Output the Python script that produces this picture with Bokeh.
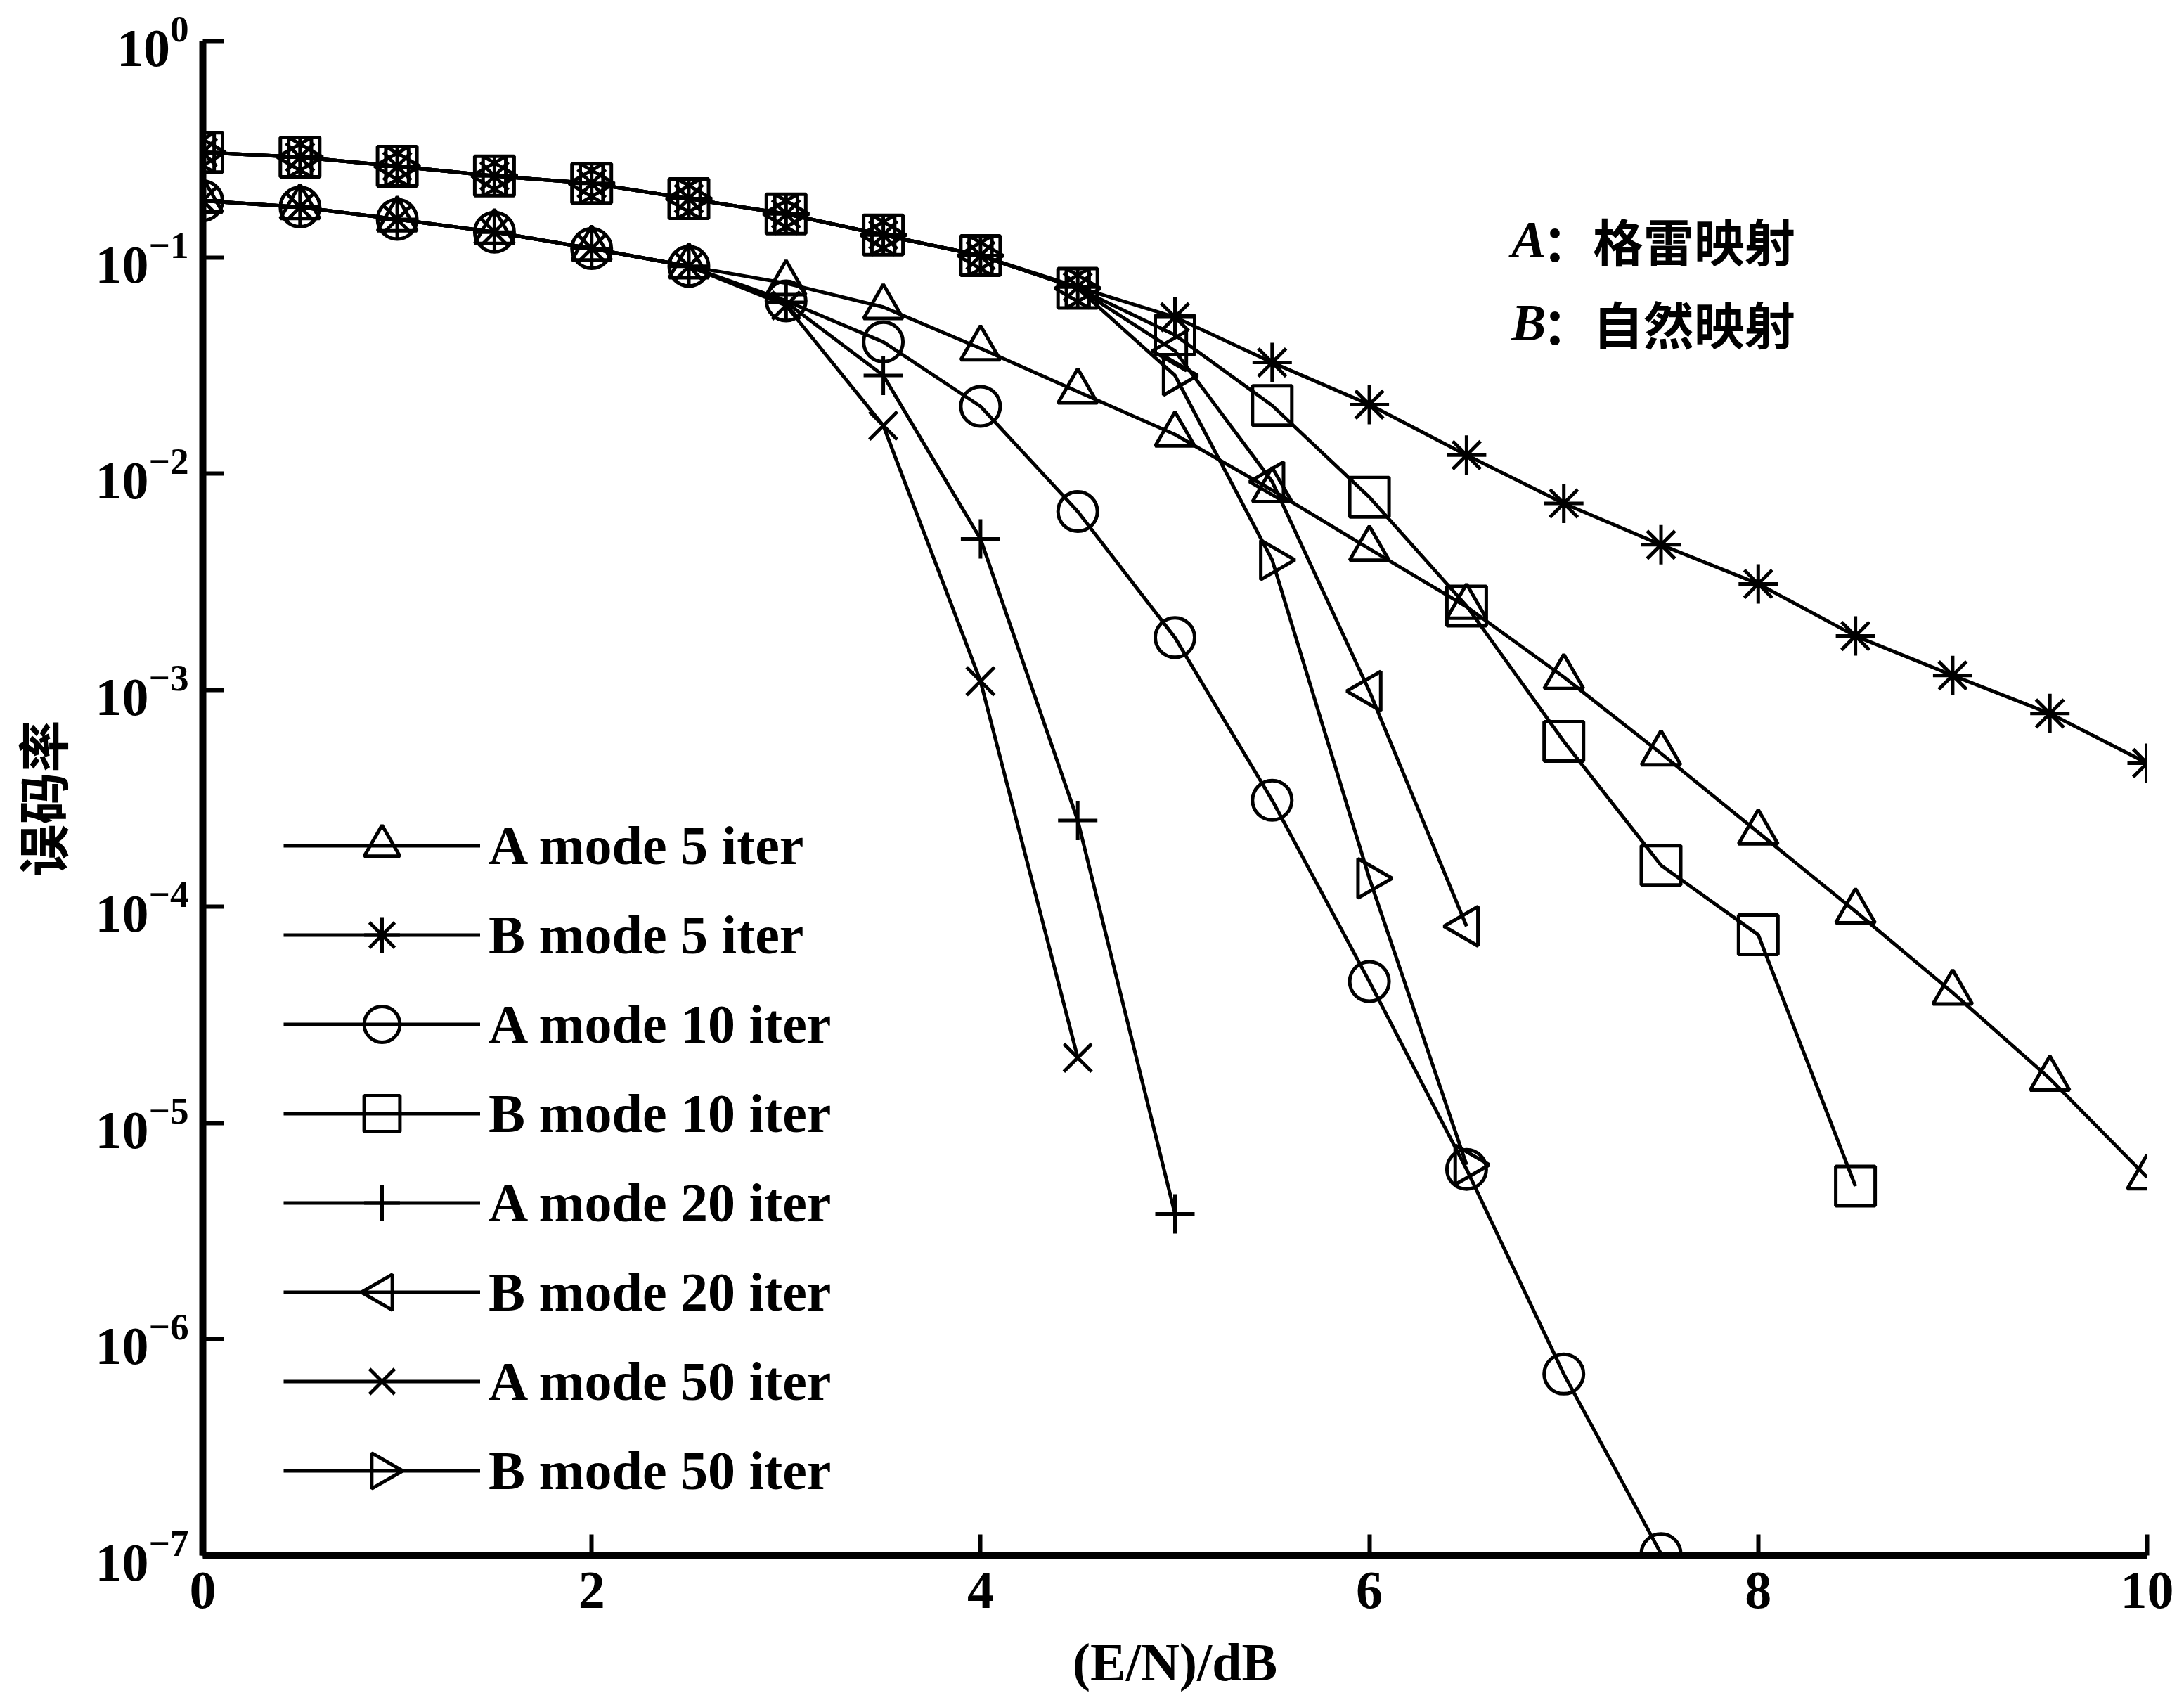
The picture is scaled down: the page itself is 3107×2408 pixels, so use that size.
from bokeh.plotting import figure
from bokeh.models import Range1d, FixedTicker, Legend, LegendItem, Label, LinearScale
from bokeh.embed import file_html
from bokeh.resources import INLINE

# ---------------- data ----------------
snr_full = [0, 0.5, 1, 1.5, 2, 2.5, 3, 3.5, 4, 4.5, 5, 5.5, 6, 6.5, 7, 7.5, 8, 8.5, 9, 9.5, 10]

ber_a5 = [0.183, 0.171, 0.150, 0.131, 0.110, 0.091, 0.076, 0.059, 0.038, 0.024, 0.0152,
          0.0084, 0.0045, 0.00243, 0.00115, 5.1e-4, 2.2e-4, 9.5e-5, 4.0e-5, 1.6e-5, 5.6e-6]
ber_b5 = [0.306, 0.291, 0.264, 0.238, 0.220, 0.187, 0.159, 0.127, 0.102, 0.073, 0.053,
          0.0327, 0.0209, 0.0122, 0.0073, 0.0047, 0.0031, 0.00178, 0.00117, 7.8e-4, 4.6e-4]

snr_a10 = [0, 0.5, 1, 1.5, 2, 2.5, 3, 3.5, 4, 4.5, 5, 5.5, 6, 6.5, 7, 7.5]
ber_a10 = [0.183, 0.171, 0.150, 0.131, 0.110, 0.091, 0.063, 0.0407, 0.0205, 0.0067, 0.00175,
           3.1e-4, 4.5e-5, 6.1e-6, 6.9e-7, 1.02e-7]

snr_b10 = [0, 0.5, 1, 1.5, 2, 2.5, 3, 3.5, 4, 4.5, 5, 5.5, 6, 6.5, 7, 7.5, 8, 8.5]
ber_b10 = [0.306, 0.291, 0.264, 0.238, 0.220, 0.187, 0.159, 0.127, 0.102, 0.072, 0.0438,
           0.0207, 0.0078, 0.00245, 5.8e-4, 1.55e-4, 7.4e-5, 5.1e-6]

snr_a20 = [0, 0.5, 1, 1.5, 2, 2.5, 3, 3.5, 4, 4.5, 5]
ber_a20 = [0.183, 0.171, 0.150, 0.131, 0.110, 0.091, 0.062, 0.0285, 0.0050, 2.5e-4, 3.8e-6]

snr_b20 = [0, 0.5, 1, 1.5, 2, 2.5, 3, 3.5, 4, 4.5, 5, 5.5, 6, 6.5]
ber_b20 = [0.306, 0.291, 0.264, 0.238, 0.220, 0.187, 0.159, 0.127, 0.102, 0.072, 0.037,
           0.0092, 9.9e-4, 8.1e-5]

snr_a50 = [0, 0.5, 1, 1.5, 2, 2.5, 3, 3.5, 4, 4.5]
ber_a50 = [0.183, 0.171, 0.150, 0.131, 0.110, 0.091, 0.060, 0.0167, 0.0011, 2.0e-5]

snr_b50 = [0, 0.5, 1, 1.5, 2, 2.5, 3, 3.5, 4, 4.5, 5, 5.5, 6, 6.5]
ber_b50 = [0.306, 0.291, 0.264, 0.238, 0.220, 0.187, 0.159, 0.127, 0.102, 0.072, 0.0285,
           0.0040, 1.35e-4, 6.4e-6]

series_labels = ["A mode 5 iter", "B mode 5 iter", "A mode 10 iter", "B mode 10 iter",
                 "A mode 20 iter", "B mode 20 iter", "A mode 50 iter", "B mode 50 iter"]

x_ticks = [0, 2, 4, 6, 8, 10]
y_ticks = [1e-7, 1e-6, 1e-5, 1e-4, 1e-3, 1e-2, 1e-1, 1]

ann_a = ("A", "：格雷映射")
ann_b = ("B", "：自然映射")
x_title = "(E/N)/dB"
y_title = "误码率"

# ---------------- figure ----------------
FRAME_W, FRAME_H = 2766, 2154
p = figure(frame_width=FRAME_W, frame_height=FRAME_H,
           x_range=Range1d(0, 10), y_range=Range1d(1e-7, 1),
           y_axis_type="log", output_backend="svg", toolbar_location=None,
           min_border_left=285, min_border_right=40, min_border_top=58,
           min_border_bottom=170)
p.outline_line_color = None
p.grid.visible = False
p.background_fill_color = "white"

# pixel-space ranges used only for the legend's rotated marker samples
p.extra_x_ranges = {"lpx": Range1d(0, FRAME_W)}
p.extra_y_ranges = {"lpy": Range1d(0, FRAME_H)}
p.extra_x_scales = {"lpx": LinearScale()}
p.extra_y_scales = {"lpy": LinearScale()}

SERIF = "Liberation Serif"

for ax in (p.xaxis[0], p.yaxis[0]):
    ax.axis_line_width = 10
    ax.axis_line_color = "black"
    ax.major_tick_line_width = 6
    ax.major_tick_line_color = "black"
    ax.major_tick_in = 30
    ax.major_tick_out = 0
    ax.minor_tick_line_color = None
    ax.major_label_text_font = SERIF
    ax.major_label_text_font_style = "bold"
    ax.major_label_text_font_size = "76px"
    ax.major_label_text_color = "black"

p.xaxis.ticker = FixedTicker(ticks=x_ticks)
p.yaxis.ticker = FixedTicker(ticks=y_ticks)
p.xaxis.major_label_standoff = 24
p.yaxis.major_label_standoff = 20

p.xaxis.axis_label = x_title
p.xaxis.axis_label_text_font = SERIF
p.xaxis.axis_label_text_font_style = "bold"
p.xaxis.axis_label_text_font_size = "76px"
p.xaxis.axis_label_text_color = "black"
p.xaxis.axis_label_standoff = 32

p.yaxis.axis_label = y_title
p.yaxis.axis_label_text_font = "Noto Sans CJK SC"
p.yaxis.axis_label_text_font_style = "bold"
p.yaxis.axis_label_text_font_size = "74px"
p.yaxis.axis_label_text_color = "black"
p.yaxis.axis_label_standoff = 22

# ---------------- series ----------------
LW = 5
MSIZE = 56
HALF_PI = 1.5707963
specs = [
    (snr_full, ber_a5, "triangle", 0.0),
    (snr_full, ber_b5, "asterisk", 0.0),
    (snr_a10, ber_a10, "circle", 0.0),
    (snr_b10, ber_b10, "square", 0.0),
    (snr_a20, ber_a20, "cross", 0.0),
    (snr_b20, ber_b20, "triangle", HALF_PI),
    (snr_a50, ber_a50, "x", 0.0),
    (snr_b50, ber_b50, "triangle", -HALF_PI),
]

# legend layout (screen px, relative to the frame's bottom-left corner)
LEG_X, LEG_Y = 115, 57
GLYPH_W, ROW_H = 280, 127
n_items = len(specs)

items = []
for i, ((xs, ys, marker, ang), lab) in enumerate(zip(specs, series_labels)):
    lr = p.line(xs, ys, line_color="black", line_width=LW)
    sr = p.scatter(xs, ys, marker=marker, size=MSIZE, angle=ang,
                   line_color="black", line_width=LW, fill_alpha=0)
    if ang == 0.0:
        items.append(LegendItem(label=lab, renderers=[lr, sr]))
    else:
        # Bokeh's legend ignores marker angle: draw the rotated sample ourselves
        items.append(LegendItem(label=lab, renderers=[lr]))
        cx = LEG_X + GLYPH_W / 2
        cy = LEG_Y + (n_items - 1 - i) * ROW_H + ROW_H / 2
        p.scatter([cx], [cy], marker=marker, angle=ang,
                  size=0.4 * min(GLYPH_W, ROW_H), line_color="black",
                  line_width=LW, fill_alpha=0,
                  x_range_name="lpx", y_range_name="lpy")

legend = Legend(items=items, location=(LEG_X, LEG_Y),
                glyph_width=GLYPH_W, glyph_height=ROW_H, label_height=ROW_H,
                spacing=0, label_standoff=12, padding=0, margin=0,
                border_line_color=None, background_fill_alpha=0,
                label_text_font=SERIF, label_text_font_style="bold",
                label_text_font_size="78px", label_text_color="black")
p.add_layout(legend)

# ---------------- annotations ----------------
for (head, tail), yv in ((ann_a, 0.121), (ann_b, 0.050)):
    p.add_layout(Label(x=6.73, y=yv, text=head, text_font=SERIF,
                       text_font_style="bold italic", text_font_size="74px",
                       text_baseline="middle", text_color="black"))
    p.add_layout(Label(x=6.73, y=yv, x_offset=44, text=tail,
                       text_font="Noto Sans CJK SC", text_font_style="bold",
                       text_font_size="72px", text_baseline="middle",
                       text_color="black"))

open("out.html", "w").write(file_html(p, INLINE))
